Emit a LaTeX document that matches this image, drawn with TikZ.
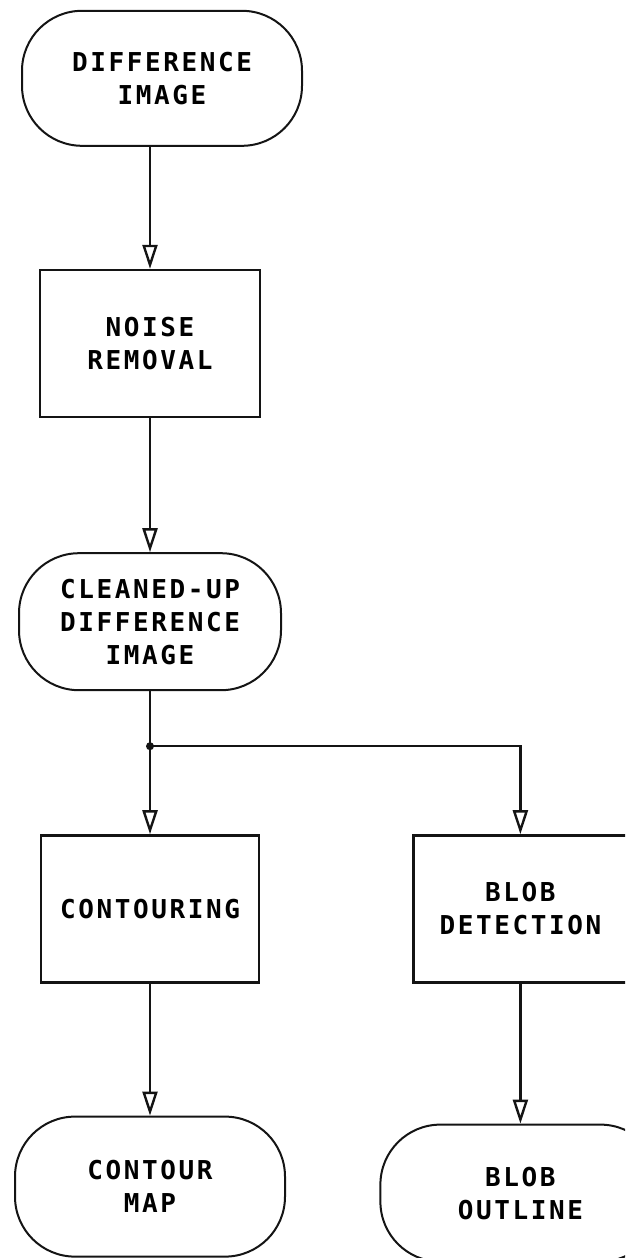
\documentclass[tikz,border=0pt]{standalone}
\usepackage{fontspec}
\setmonofont{DejaVu Sans Mono}[LetterSpace=10]
\usepackage{tikz}
\usetikzlibrary{arrows.meta,positioning,calc}
\definecolor{FCInk}{HTML}{141414}
\tikzset{
  >={Triangle[open,length=24pt,width=15pt]},
  fcbox/.style={draw=FCInk, line width=2.4pt, align=center, inner sep=0pt,
    minimum width=218pt, minimum height=147pt},
  fcterm/.style={fcbox, line width=2pt, rounded corners=60pt,
    minimum width=280pt, minimum height=137pt},
  fcarrow/.style={->, line width=2.4pt, draw=FCInk},
  fcline/.style={line width=2.4pt, draw=FCInk}
}

\begin{document}
\begin{tikzpicture}[font=\ttfamily\bfseries\fontsize{26}{33}\selectfont]
  \useasboundingbox (0,0) rectangle (625pt,-1258pt);
  \clip (0,0) rectangle (625pt,-1258pt);

  \node[fcbox, minimum width=220pt] (noise) at (150pt,-343.5pt)
    {NOISE\\REMOVAL};
  \node[fcterm, above=122pt of noise, xshift=12pt, minimum height=135pt] (diff)
    {DIFFERENCE\\IMAGE};
  \node[fcterm, below=134pt of noise, minimum width=262pt] (clean)
    {CLEANED-UP\\DIFFERENCE\\IMAGE};

  \coordinate[below=55pt of clean] (split);
  \node[fcbox, below=143pt of clean] (contour) {CONTOURING};
  \node[fcbox, right=152pt of contour, minimum width=214pt] (blob)
    {BLOB\\DETECTION};

  \node[fcterm, below=132pt of contour, minimum width=270pt,
    minimum height=140pt] (cmap) {CONTOUR\\MAP};
  \node[fcterm, below=140pt of blob] (bout) {BLOB\\OUTLINE};

  \draw[fcarrow] (diff.south -| noise.north) -- (noise.north);
  \draw[fcarrow] (noise) -- (clean);
  \draw[fcline] (clean) -- (split);
  \fill[FCInk] (split) circle (4pt);
  \draw[fcarrow] (split) -- (contour);
  \draw[fcarrow] (split) -| (blob);
  \draw[fcarrow] (contour) -- (cmap);
  \draw[fcarrow] (blob) -- (bout);
\end{tikzpicture}
\end{document}
